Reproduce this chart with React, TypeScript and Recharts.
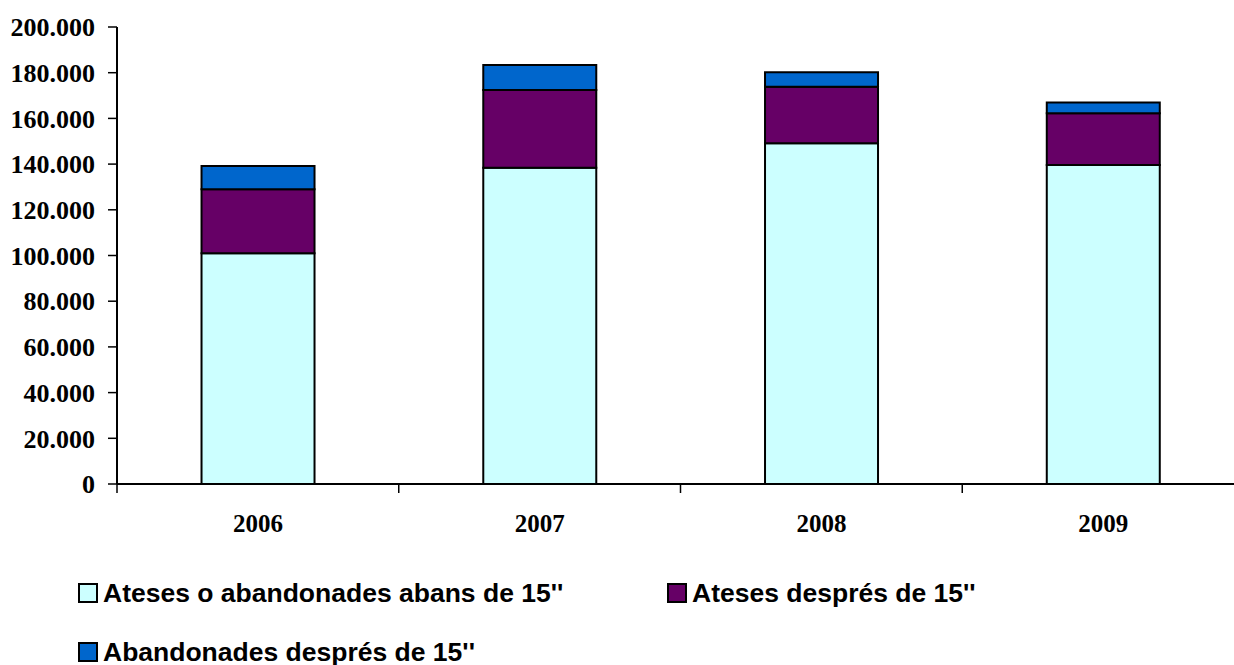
import { BarChart, Bar, XAxis, YAxis, Legend } from 'recharts';

const years = ['2006', '2007', '2008', '2009'];
const atesesAbans = [101000, 138400, 149100, 139600];
const atesesDespres = [28000, 34000, 24800, 22600];
const abandonadesDespres = [10200, 11000, 6300, 4800];
const yTicks = [0, 20000, 40000, 60000, 80000, 100000, 120000, 140000, 160000, 180000, 200000];

const seriesNames = ["Ateses o abandonades abans de 15''", "Ateses després de 15''", "Abandonades després de 15''"];
const colors = ['#CCFFFF', '#660066', '#0066CC'];

const data = years.map((y, i) => ({
    year: y,
    a: atesesAbans[i],
    b: atesesDespres[i],
    c: abandonadesDespres[i],
}));

const fmt = (v: number) => v.toLocaleString('de-DE');

const X_TICK_SIZE = 9;
const X_TICK_MARGIN = 21;

// category label + a tick mark on the left edge of each category band (Excel style)
function YearTick({ x, y, payload, width, visibleTicksCount }: any) {
    const band = width / visibleTicksCount;
    const axisY = y - X_TICK_MARGIN - X_TICK_SIZE;
    return (
        <g>
            <line x1={x - band / 2} x2={x - band / 2} y1={axisY} y2={axisY + X_TICK_SIZE} stroke="#000" strokeWidth={1.5} />
            <text
                x={x}
                y={y}
                dy="0.71em"
                textAnchor="middle"
                fontFamily='"Liberation Serif", "Times New Roman", serif'
                fontWeight={700}
                fontSize={25}
                fill="#000"
            >
                {payload.value}
            </text>
        </g>
    );
}

function LegendBox() {
    const item = (i: number, left: number, top: number) => (
        <div key={i} style={{ position: 'absolute', left, top, height: 30, display: 'flex', alignItems: 'center' }}>
            <span style={{ boxSizing: 'border-box', width: 20, height: 20, background: colors[i], border: '2px solid #000', marginRight: 5 }} />
            <span style={{ fontFamily: '"Liberation Sans", Arial, sans-serif', fontWeight: 700, fontSize: 26.5, color: '#000', whiteSpace: 'nowrap' }}>
                {seriesNames[i]}
            </span>
        </div>
    );
    return (
        <div style={{ position: 'relative', width: 1234, height: 100 }}>
            {item(0, 78, 0)}
            {item(1, 667, 0)}
            {item(2, 78, 59)}
        </div>
    );
}

export default function App() {
    const axisFont = { fontFamily: '"Liberation Serif", "Times New Roman", serif', fontWeight: 700, fontSize: 26, fill: '#000' };
    return (
        <div style={{ position: 'absolute', left: 0, top: 0, width: 1234, height: 665, overflow: 'hidden', background: '#fff' }}>
            <BarChart
                width={1244}
                height={665}
                data={data}
                margin={{ top: 27, right: 0, left: 0, bottom: 41 }}
                barCategoryGap="30%"
            >
                <XAxis
                    dataKey="year"
                    tick={<YearTick />}
                    tickLine={false}
                    tickSize={X_TICK_SIZE}
                    tickMargin={X_TICK_MARGIN}
                    axisLine={{ stroke: '#000', strokeWidth: 2 }}
                    height={40}
                    interval={0}
                />
                <YAxis
                    domain={[0, 200000]}
                    ticks={yTicks}
                    tickFormatter={fmt}
                    tick={axisFont}
                    tickSize={9}
                    tickMargin={13}
                    axisLine={{ stroke: '#000', strokeWidth: 2 }}
                    tickLine={{ stroke: '#000', strokeWidth: 1.5 }}
                    width={117}
                    interval={0}
                />
                <Legend
                    content={<LegendBox />}
                    verticalAlign="bottom"
                    wrapperStyle={{ left: 0, top: 578, width: 1234, height: 100 }}
                />
                <Bar dataKey="a" name={seriesNames[0]} stackId="s" fill={colors[0]} stroke="#000" strokeWidth={2} isAnimationActive={false} />
                <Bar dataKey="b" name={seriesNames[1]} stackId="s" fill={colors[1]} stroke="#000" strokeWidth={2} isAnimationActive={false} />
                <Bar dataKey="c" name={seriesNames[2]} stackId="s" fill={colors[2]} stroke="#000" strokeWidth={2} isAnimationActive={false} />
            </BarChart>
        </div>
    );
}
